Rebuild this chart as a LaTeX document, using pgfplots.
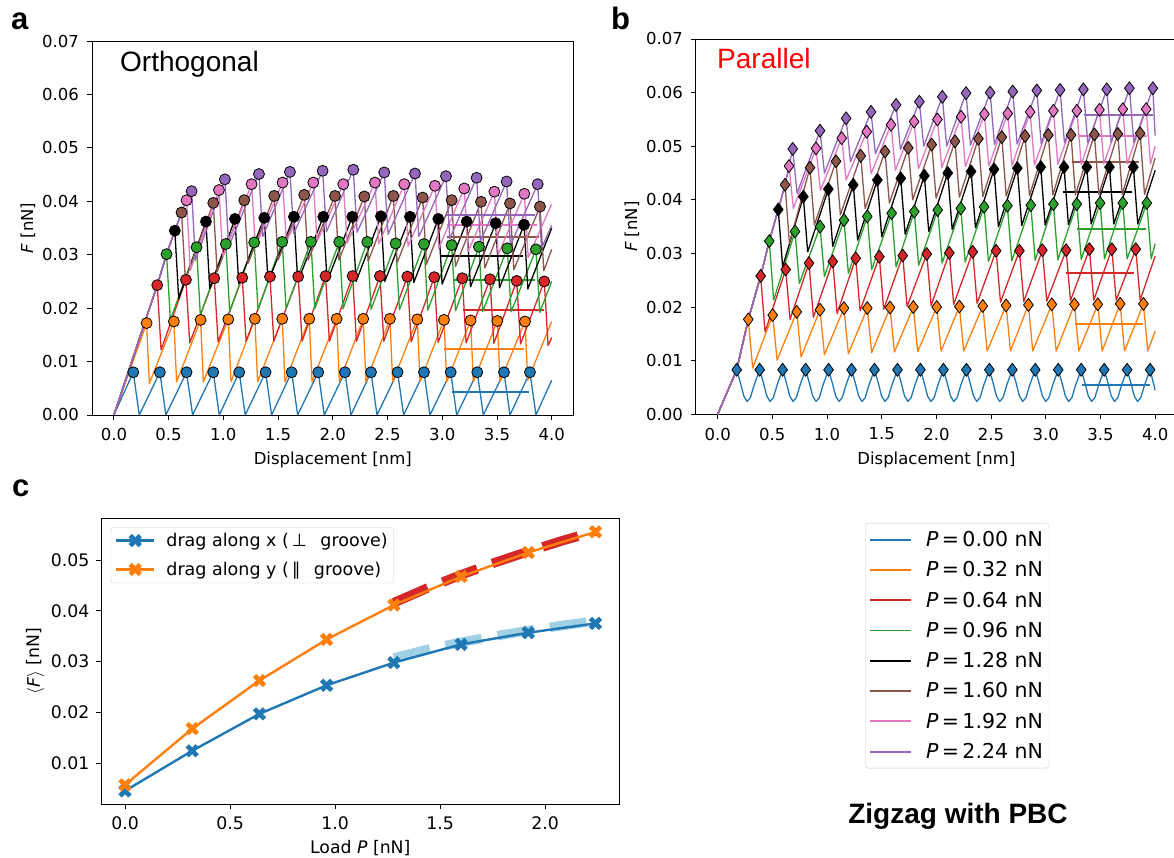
\documentclass[border=0pt]{standalone}
\usepackage{fontspec}
\setmainfont{DejaVu Sans}
\newfontfamily\arial{Liberation Sans}
\usepackage{pgfplots}
\pgfplotsset{compat=1.18}
\definecolor{C0}{RGB}{31,119,180}
\definecolor{C1}{RGB}{255,127,14}
\definecolor{C2}{RGB}{44,160,44}
\definecolor{C3}{RGB}{214,39,40}
\definecolor{C4}{RGB}{148,103,189}
\definecolor{C5}{RGB}{140,86,75}
\definecolor{C6}{RGB}{227,119,194}
\definecolor{LB}{RGB}{160,208,228}
\definecolor{legframe}{RGB}{204,204,204}
\pgfdeclareplotmark{Xf}{%
 \pgftransformrotate{45}%
 \pgfpathmoveto{\pgfqpoint{0.3\pgfplotmarksize}{\pgfplotmarksize}}%
 \pgfpathlineto{\pgfqpoint{0.3\pgfplotmarksize}{0.3\pgfplotmarksize}}%
 \pgfpathlineto{\pgfqpoint{\pgfplotmarksize}{0.3\pgfplotmarksize}}%
 \pgfpathlineto{\pgfqpoint{\pgfplotmarksize}{-0.3\pgfplotmarksize}}%
 \pgfpathlineto{\pgfqpoint{0.3\pgfplotmarksize}{-0.3\pgfplotmarksize}}%
 \pgfpathlineto{\pgfqpoint{0.3\pgfplotmarksize}{-\pgfplotmarksize}}%
 \pgfpathlineto{\pgfqpoint{-0.3\pgfplotmarksize}{-\pgfplotmarksize}}%
 \pgfpathlineto{\pgfqpoint{-0.3\pgfplotmarksize}{-0.3\pgfplotmarksize}}%
 \pgfpathlineto{\pgfqpoint{-\pgfplotmarksize}{-0.3\pgfplotmarksize}}%
 \pgfpathlineto{\pgfqpoint{-\pgfplotmarksize}{0.3\pgfplotmarksize}}%
 \pgfpathlineto{\pgfqpoint{-0.3\pgfplotmarksize}{0.3\pgfplotmarksize}}%
 \pgfpathlineto{\pgfqpoint{-0.3\pgfplotmarksize}{\pgfplotmarksize}}%
 \pgfpathclose
 \pgfusepathqfillstroke}
\pgfplotsset{
 panelab/.style={scale only axis, xmin=-0.2, xmax=4.2, ymin=0, ymax=0.07,
  axis line style={line width=0.9pt}, tick align=outside, tick pos=left,
  major tick length=5pt, every tick/.style={black, line width=0.9pt},
  xtick={0,0.5,1,1.5,2,2.5,3,3.5,4},
  xticklabels={0.0,0.5,1.0,1.5,2.0,2.5,3.0,3.5,4.0},
  ytick={0,0.01,0.02,0.03,0.04,0.05,0.06,0.07},
  yticklabels={0.00,0.01,0.02,0.03,0.04,0.05,0.06,0.07},
  scaled ticks=false,
  tick label style={font=\fontsize{16.5}{19}\selectfont},
  xticklabel style={yshift=-5pt},
  yticklabel style={xshift=-4.5pt},
  label style={font=\fontsize{16.5}{19}\selectfont},
  xlabel={Displacement [nm]}, ylabel={\textit{F} [nN]},
  xlabel style={at={(axis description cs:0.5,-0.12)}, anchor=center},
  ylabel style={at={(axis description cs:-0.133,0.5)}, anchor=center},
  every axis plot/.append style={line join=round},
 },
 ln/.style={no marks, line width=1.3pt, #1},
 mn/.style={no marks, line width=2pt, #1},
 ca/.style={only marks, mark=*, mark size=5.5pt, mark options={fill=#1, draw=black, line width=0.8pt}},
 db/.style={only marks, mark=diamond*, mark size=6.5pt, mark options={fill=#1, draw=black, line width=0.8pt}},
}
\begin{document}
\begin{tikzpicture}[x=1pt,y=1pt]
\useasboundingbox (0,0) rectangle (1174,858);
% ---------------- panel a ----------------
\begin{axis}[panelab, at={(92pt,443pt)}, anchor=south west, width=481.6pt, height=374pt]
% P=0.00
\addplot[ln=C0] coordinates {(0,0) (0.177,0.0080) (0.232,0) (0.420,0.0080) (0.475,0) (0.664,0.0080) (0.719,0) (0.908,0.0080) (0.963,0) (1.145,0.0080) (1.200,0) (1.386,0.0080) (1.441,0) (1.624,0.0080) (1.679,0) (1.867,0.0080) (1.922,0) (2.111,0.0080) (2.166,0) (2.349,0.0080) (2.404,0) (2.592,0.0080) (2.647,0) (2.833,0.0080) (2.888,0) (3.077,0.0080) (3.132,0) (3.320,0.0080) (3.375,0) (3.564,0.0080) (3.619,0) (3.801,0.0080) (3.856,0) (4.0,0.0065)};
\addplot[mn=C0] coordinates {(3.087,0.00435) (3.796,0.00435)};
\addplot[ca=C0] coordinates {(0.177,0.0080) (0.420,0.0080) (0.664,0.0080) (0.908,0.0080) (1.145,0.0080) (1.386,0.0080) (1.624,0.0080) (1.867,0.0080) (2.111,0.0080) (2.349,0.0080) (2.592,0.0080) (2.833,0.0080) (3.077,0.0080) (3.320,0.0080) (3.564,0.0080) (3.801,0.0080)};
% P=0.32
\addplot[ln=C1] coordinates {(0,0) (0.299,0.0172) (0.324,0.0059) (0.548,0.0175) (0.573,0.0062) (0.792,0.0178) (0.817,0.0062) (1.045,0.0179) (1.070,0.0062) (1.288,0.0180) (1.313,0.0062) (1.538,0.0180) (1.563,0.0062) (1.785,0.0180) (1.810,0.0062) (2.035,0.0180) (2.060,0.0062) (2.278,0.0180) (2.303,0.0062) (2.522,0.0180) (2.547,0.0062) (2.772,0.0179) (2.797,0.0062) (3.016,0.0178) (3.041,0.0062) (3.259,0.0177) (3.284,0.0062) (3.503,0.0176) (3.528,0.0062) (3.756,0.0175) (3.781,0.0065) (4.0,0.0175)};
\addplot[mn=C1] coordinates {(3.02,0.0124) (3.75,0.0124)};
\addplot[ca=C1] coordinates {(0.299,0.0172) (0.548,0.0175) (0.792,0.0178) (1.045,0.0179) (1.288,0.0180) (1.538,0.0180) (1.785,0.0180) (2.035,0.0180) (2.278,0.0180) (2.522,0.0180) (2.772,0.0179) (3.016,0.0178) (3.259,0.0177) (3.503,0.0176) (3.756,0.0175)};
% P=0.64
\addplot[ln=C3] coordinates {(0,0) (0.396,0.0243) (0.431,0.0122) (0.658,0.0253) (0.693,0.0135) (0.917,0.0256) (0.952,0.0137) (1.173,0.0257) (1.208,0.0138) (1.426,0.0259) (1.461,0.0138) (1.684,0.0259) (1.719,0.0138) (1.934,0.0260) (1.969,0.0138) (2.181,0.0260) (2.216,0.0138) (2.431,0.0260) (2.466,0.0138) (2.681,0.0259) (2.716,0.0137) (2.927,0.0258) (2.962,0.0136) (3.183,0.0256) (3.218,0.0135) (3.436,0.0254) (3.471,0.0134) (3.680,0.0251) (3.715,0.0133) (3.932,0.0250) (3.967,0.0130) (4.0,0.0145)};
\addplot[mn=C3] coordinates {(3.19,0.0196) (3.93,0.0196)};
\addplot[ca=C3] coordinates {(0.396,0.0243) (0.658,0.0253) (0.917,0.0256) (1.173,0.0257) (1.426,0.0259) (1.684,0.0259) (1.934,0.0260) (2.181,0.0260) (2.431,0.0260) (2.681,0.0259) (2.927,0.0258) (3.183,0.0256) (3.436,0.0254) (3.680,0.0251) (3.932,0.0250)};
% P=0.96
\addplot[ln=C2] coordinates {(0,0) (0.396,0.0243) (0.481,0.0301) (0.516,0.0178) (0.755,0.0314) (0.790,0.0187) (1.023,0.0320) (1.058,0.0193) (1.282,0.0323) (1.317,0.0197) (1.538,0.0324) (1.573,0.0199) (1.800,0.0324) (1.835,0.0199) (2.059,0.0324) (2.094,0.0199) (2.315,0.0324) (2.350,0.0198) (2.574,0.0321) (2.609,0.0197) (2.833,0.0320) (2.868,0.0196) (3.086,0.0318) (3.121,0.0195) (3.335,0.0315) (3.370,0.0194) (3.594,0.0312) (3.629,0.0193) (3.856,0.0310) (3.891,0.0192) (4.0,0.0250)};
\addplot[mn=C2] coordinates {(3.10,0.0253) (3.85,0.0253)};
\addplot[ca=C2] coordinates {(0.481,0.0301) (0.755,0.0314) (1.023,0.0320) (1.282,0.0323) (1.538,0.0324) (1.800,0.0324) (2.059,0.0324) (2.315,0.0324) (2.574,0.0321) (2.833,0.0320) (3.086,0.0318) (3.335,0.0315) (3.594,0.0312) (3.856,0.0310)};
% P=1.28
\addplot[ln=black] coordinates {(0,0) (0.396,0.0243) (0.481,0.0301) (0.557,0.0345) (0.592,0.0218) (0.841,0.0362) (0.876,0.0237) (1.106,0.0367) (1.141,0.0246) (1.374,0.0369) (1.409,0.0249) (1.645,0.0371) (1.680,0.0250) (1.913,0.0371) (1.948,0.0250) (2.178,0.0371) (2.213,0.0250) (2.440,0.0372) (2.475,0.0250) (2.705,0.0371) (2.740,0.0248) (2.964,0.0367) (2.999,0.0245) (3.223,0.0362) (3.258,0.0240) (3.488,0.0359) (3.523,0.0238) (3.747,0.0356) (3.782,0.0236) (4.0,0.0350)};
\addplot[mn=black] coordinates {(2.98,0.0298) (3.74,0.0298)};
\addplot[ca=black] coordinates {(0.557,0.0345) (0.841,0.0362) (1.106,0.0367) (1.374,0.0369) (1.645,0.0371) (1.913,0.0371) (2.178,0.0371) (2.440,0.0372) (2.705,0.0371) (2.964,0.0367) (3.223,0.0362) (3.488,0.0359) (3.747,0.0356)};
% P=1.60
\addplot[ln=C5] coordinates {(0,0) (0.396,0.0243) (0.481,0.0301) (0.557,0.0345) (0.618,0.0379) (0.653,0.0253) (0.908,0.0397) (0.943,0.0268) (1.191,0.0402) (1.226,0.0284) (1.465,0.0410) (1.500,0.0290) (1.739,0.0412) (1.774,0.0290) (2.020,0.0410) (2.055,0.0290) (2.288,0.0409) (2.323,0.0288) (2.553,0.0410) (2.588,0.0285) (2.821,0.0407) (2.856,0.0282) (3.086,0.0402) (3.121,0.0278) (3.354,0.0399) (3.389,0.0275) (3.619,0.0396) (3.654,0.0272) (3.893,0.0390) (3.928,0.0270) (4.0,0.0310)};
\addplot[mn=C5] coordinates {(3.04,0.0333) (3.88,0.0333)};
\addplot[ca=C5] coordinates {(0.618,0.0379) (0.908,0.0397) (1.191,0.0402) (1.465,0.0410) (1.739,0.0412) (2.020,0.0410) (2.288,0.0409) (2.553,0.0410) (2.821,0.0407) (3.086,0.0402) (3.354,0.0399) (3.619,0.0396) (3.893,0.0390)};
% P=1.92
\addplot[ln=C6] coordinates {(0,0) (0.396,0.0243) (0.481,0.0301) (0.557,0.0345) (0.618,0.0379) (0.664,0.0402) (0.699,0.0271) (0.960,0.0421) (0.995,0.0296) (1.258,0.0432) (1.293,0.0315) (1.541,0.0435) (1.576,0.0324) (1.822,0.0435) (1.857,0.0325) (2.096,0.0432) (2.131,0.0322) (2.385,0.0435) (2.420,0.0320) (2.653,0.0432) (2.688,0.0316) (2.933,0.0429) (2.968,0.0312) (3.201,0.0424) (3.236,0.0306) (3.476,0.0418) (3.511,0.0300) (3.750,0.0414) (3.785,0.0295) (4.0,0.0395)};
\addplot[mn=C6] coordinates {(3.04,0.0356) (3.87,0.0356)};
\addplot[ca=C6] coordinates {(0.664,0.0402) (0.960,0.0421) (1.258,0.0432) (1.541,0.0435) (1.822,0.0435) (2.096,0.0432) (2.385,0.0435) (2.653,0.0432) (2.933,0.0429) (3.201,0.0424) (3.476,0.0418) (3.750,0.0414)};
% P=2.24
\addplot[ln=C4] coordinates {(0,0) (0.396,0.0243) (0.481,0.0301) (0.557,0.0345) (0.618,0.0379) (0.664,0.0402) (0.710,0.0419) (0.745,0.0290) (1.014,0.0441) (1.049,0.0315) (1.325,0.0451) (1.360,0.0334) (1.608,0.0455) (1.643,0.0340) (1.907,0.0457) (1.942,0.0343) (2.187,0.0459) (2.222,0.0342) (2.470,0.0454) (2.505,0.0338) (2.751,0.0452) (2.786,0.0334) (3.034,0.0447) (3.069,0.0330) (3.314,0.0444) (3.349,0.0325) (3.588,0.0437) (3.623,0.0318) (3.872,0.0432) (3.907,0.0312) (4.0,0.0355)};
\addplot[mn=C4] coordinates {(3.03,0.0375) (3.85,0.0375)};
\addplot[ca=C4] coordinates {(0.710,0.0419) (1.014,0.0441) (1.325,0.0451) (1.608,0.0455) (1.907,0.0457) (2.187,0.0459) (2.470,0.0454) (2.751,0.0452) (3.034,0.0447) (3.314,0.0444) (3.588,0.0437) (3.872,0.0432)};
\end{axis}
% ---------------- panel b ----------------
\begin{axis}[panelab, at={(695.8pt,443.7pt)}, anchor=south west, width=481.2pt, height=375.3pt,
  ylabel style={at={(axis description cs:-0.1326,0.5)}, anchor=center},
  xlabel style={at={(axis description cs:0.5,-0.1218)}, anchor=center}]
% P=0.00
\addplot[ln=C0] coordinates {(0,0) (0.174,0.0083) (0.209,0.0058) (0.239,0.0034) (0.269,0.0024) (0.299,0.0031) (0.334,0.0055)
(0.384,0.0083) (0.419,0.0058) (0.449,0.0034) (0.479,0.0024) (0.509,0.0031) (0.544,0.0055)
(0.594,0.0083) (0.629,0.0058) (0.659,0.0034) (0.689,0.0024) (0.719,0.0031) (0.754,0.0055)
(0.804,0.0083) (0.839,0.0058) (0.869,0.0034) (0.899,0.0024) (0.929,0.0031) (0.964,0.0055)
(1.014,0.0083) (1.049,0.0058) (1.079,0.0034) (1.109,0.0024) (1.139,0.0031) (1.174,0.0055)
(1.224,0.0083) (1.259,0.0058) (1.289,0.0034) (1.319,0.0024) (1.349,0.0031) (1.384,0.0055)
(1.434,0.0083) (1.469,0.0058) (1.499,0.0034) (1.529,0.0024) (1.559,0.0031) (1.594,0.0055)
(1.644,0.0083) (1.679,0.0058) (1.709,0.0034) (1.739,0.0024) (1.769,0.0031) (1.804,0.0055)
(1.854,0.0083) (1.889,0.0058) (1.919,0.0034) (1.949,0.0024) (1.979,0.0031) (2.014,0.0055)
(2.064,0.0083) (2.099,0.0058) (2.129,0.0034) (2.159,0.0024) (2.189,0.0031) (2.224,0.0055)
(2.274,0.0083) (2.309,0.0058) (2.339,0.0034) (2.369,0.0024) (2.399,0.0031) (2.434,0.0055)
(2.484,0.0083) (2.519,0.0058) (2.549,0.0034) (2.579,0.0024) (2.609,0.0031) (2.644,0.0055)
(2.694,0.0083) (2.729,0.0058) (2.759,0.0034) (2.789,0.0024) (2.819,0.0031) (2.854,0.0055)
(2.904,0.0083) (2.939,0.0058) (2.969,0.0034) (2.999,0.0024) (3.029,0.0031) (3.064,0.0055)
(3.114,0.0083) (3.149,0.0058) (3.179,0.0034) (3.209,0.0024) (3.239,0.0031) (3.274,0.0055)
(3.324,0.0083) (3.359,0.0058) (3.389,0.0034) (3.419,0.0024) (3.449,0.0031) (3.484,0.0055)
(3.534,0.0083) (3.569,0.0058) (3.599,0.0034) (3.629,0.0024) (3.659,0.0031) (3.694,0.0055)
(3.744,0.0083) (3.779,0.0058) (3.809,0.0034) (3.839,0.0024) (3.869,0.0031) (3.904,0.0055)
(3.954,0.0083) (4.0,0.0045)};
\addplot[mn=C0] coordinates {(3.33,0.00547) (3.95,0.00547)};
\addplot[db=C0] coordinates {(0.174,0.0083) (0.384,0.0083) (0.594,0.0083) (0.804,0.0083) (1.014,0.0083) (1.224,0.0083) (1.434,0.0083) (1.644,0.0083) (1.854,0.0083) (2.064,0.0083) (2.274,0.0083) (2.484,0.0083) (2.694,0.0083) (2.904,0.0083) (3.114,0.0083) (3.324,0.0083) (3.534,0.0083) (3.744,0.0083) (3.954,0.0083)};
% P=0.32
\addplot[ln=C1] coordinates {(0,0) (0.174,0.0083) (0.280,0.0177) (0.320,0.0086) (0.503,0.0185) (0.543,0.0101) (0.723,0.0191) (0.763,0.0107) (0.936,0.0195) (0.976,0.0111) (1.155,0.0198) (1.195,0.0113) (1.368,0.0198) (1.408,0.0115) (1.576,0.0199) (1.616,0.0116) (1.789,0.0200) (1.829,0.0117) (2.003,0.0200) (2.043,0.0118) (2.210,0.0201) (2.250,0.0118) (2.424,0.0202) (2.464,0.0118) (2.637,0.0203) (2.677,0.0118) (2.841,0.0204) (2.881,0.0118) (3.055,0.0205) (3.095,0.0118) (3.262,0.0205) (3.302,0.0118) (3.476,0.0205) (3.516,0.0118) (3.680,0.0206) (3.720,0.0118) (3.893,0.0206) (3.933,0.0118) (4.0,0.0155)};
\addplot[mn=C1] coordinates {(3.268,0.0168) (3.893,0.0168)};
\addplot[db=C1] coordinates {(0.280,0.0177) (0.503,0.0185) (0.723,0.0191) (0.936,0.0195) (1.155,0.0198) (1.368,0.0198) (1.576,0.0199) (1.789,0.0200) (2.003,0.0200) (2.210,0.0201) (2.424,0.0202) (2.637,0.0203) (2.841,0.0204) (3.055,0.0205) (3.262,0.0205) (3.476,0.0205) (3.680,0.0206) (3.893,0.0206)};
% P=0.64
\addplot[ln=C3] coordinates {(0,0) (0.174,0.0083) (0.280,0.0177) (0.393,0.0258) (0.433,0.0154) (0.622,0.0270) (0.662,0.0177) (0.835,0.0282) (0.875,0.0181) (1.052,0.0285) (1.092,0.0188) (1.262,0.0291) (1.302,0.0193) (1.478,0.0294) (1.518,0.0196) (1.692,0.0296) (1.732,0.0201) (1.912,0.0299) (1.952,0.0203) (2.118,0.0301) (2.158,0.0205) (2.332,0.0303) (2.372,0.0207) (2.546,0.0305) (2.586,0.0209) (2.759,0.0305) (2.799,0.0210) (2.969,0.0306) (3.009,0.0211) (3.186,0.0306) (3.226,0.0212) (3.399,0.0308) (3.439,0.0213) (3.604,0.0308) (3.644,0.0213) (3.823,0.0308) (3.863,0.0213) (4.0,0.0295)};
\addplot[mn=C3] coordinates {(3.186,0.0264) (3.810,0.0264)};
\addplot[db=C3] coordinates {(0.393,0.0258) (0.622,0.0270) (0.835,0.0282) (1.052,0.0285) (1.262,0.0291) (1.478,0.0294) (1.692,0.0296) (1.912,0.0299) (2.118,0.0301) (2.332,0.0303) (2.546,0.0305) (2.759,0.0305) (2.969,0.0306) (3.186,0.0306) (3.399,0.0308) (3.604,0.0308) (3.823,0.0308)};
% P=0.96
\addplot[ln=C2] coordinates {(0,0) (0.174,0.0083) (0.280,0.0177) (0.393,0.0258) (0.472,0.0323) (0.512,0.0213) (0.707,0.0341) (0.747,0.0244) (0.936,0.0350) (0.976,0.0257) (1.155,0.0362) (1.195,0.0263) (1.368,0.0369) (1.408,0.0270) (1.591,0.0375) (1.631,0.0275) (1.798,0.0378) (1.838,0.0278) (2.012,0.0381) (2.052,0.0282) (2.223,0.0384) (2.263,0.0284) (2.436,0.0387) (2.476,0.0285) (2.649,0.0389) (2.689,0.0286) (2.863,0.0390) (2.903,0.0287) (3.070,0.0392) (3.110,0.0288) (3.284,0.0392) (3.324,0.0289) (3.497,0.0394) (3.537,0.0290) (3.704,0.0394) (3.744,0.0290) (3.924,0.0394) (3.964,0.0290) (4.0,0.0318)};
\addplot[mn=C2] coordinates {(3.284,0.0345) (3.917,0.0345)};
\addplot[db=C2] coordinates {(0.472,0.0323) (0.707,0.0341) (0.936,0.0350) (1.155,0.0362) (1.368,0.0369) (1.591,0.0375) (1.798,0.0378) (2.012,0.0381) (2.223,0.0384) (2.436,0.0387) (2.649,0.0389) (2.863,0.0390) (3.070,0.0392) (3.284,0.0392) (3.497,0.0394) (3.704,0.0394) (3.924,0.0394)};
% P=1.28
\addplot[ln=black] coordinates {(0,0) (0.174,0.0083) (0.280,0.0177) (0.393,0.0258) (0.472,0.0323) (0.554,0.0382) (0.594,0.0275) (0.783,0.0406) (0.823,0.0303) (1.012,0.0420) (1.052,0.0313) (1.240,0.0428) (1.280,0.0325) (1.460,0.0437) (1.500,0.0331) (1.674,0.0440) (1.714,0.0336) (1.890,0.0445) (1.930,0.0341) (2.104,0.0450) (2.144,0.0345) (2.317,0.0453) (2.357,0.0348) (2.527,0.0457) (2.567,0.0350) (2.740,0.0459) (2.780,0.0352) (2.954,0.0461) (2.994,0.0353) (3.167,0.0461) (3.207,0.0354) (3.375,0.0461) (3.415,0.0355) (3.582,0.0461) (3.622,0.0355) (3.801,0.0461) (3.841,0.0355) (4.0,0.0455)};
\addplot[mn=black] coordinates {(3.161,0.0414) (3.787,0.0414)};
\addplot[db=black] coordinates {(0.554,0.0382) (0.783,0.0406) (1.012,0.0420) (1.240,0.0428) (1.460,0.0437) (1.674,0.0440) (1.890,0.0445) (2.104,0.0450) (2.317,0.0453) (2.527,0.0457) (2.740,0.0459) (2.954,0.0461) (3.167,0.0461) (3.375,0.0461) (3.582,0.0461) (3.801,0.0461)};
% P=1.60
\addplot[ln=C5] coordinates {(0,0) (0.174,0.0083) (0.280,0.0177) (0.393,0.0258) (0.472,0.0323) (0.554,0.0382) (0.616,0.0428) (0.656,0.0319) (0.844,0.0460) (0.884,0.0353) (1.082,0.0472) (1.122,0.0372) (1.308,0.0482) (1.348,0.0384) (1.530,0.0490) (1.570,0.0394) (1.743,0.0497) (1.783,0.0400) (1.957,0.0503) (1.997,0.0403) (2.170,0.0509) (2.210,0.0405) (2.384,0.0514) (2.424,0.0406) (2.598,0.0517) (2.638,0.0407) (2.811,0.0519) (2.851,0.0408) (3.024,0.0521) (3.064,0.0409) (3.231,0.0521) (3.271,0.0409) (3.445,0.0522) (3.485,0.0410) (3.659,0.0523) (3.699,0.0410) (3.863,0.0524) (3.903,0.0410) (4.0,0.0478)};
\addplot[mn=C5] coordinates {(3.238,0.0470) (3.856,0.0470)};
\addplot[db=C5] coordinates {(0.616,0.0428) (0.844,0.0460) (1.082,0.0472) (1.308,0.0482) (1.530,0.0490) (1.743,0.0497) (1.957,0.0503) (2.170,0.0509) (2.384,0.0514) (2.598,0.0517) (2.811,0.0519) (3.024,0.0521) (3.231,0.0521) (3.445,0.0522) (3.659,0.0523) (3.863,0.0524)};
% P=1.92
\addplot[ln=C6] coordinates {(0,0) (0.174,0.0083) (0.280,0.0177) (0.393,0.0258) (0.472,0.0323) (0.554,0.0382) (0.616,0.0428) (0.652,0.0463) (0.692,0.0384) (0.899,0.0496) (0.939,0.0418) (1.134,0.0515) (1.174,0.0437) (1.363,0.0527) (1.403,0.0449) (1.585,0.0540) (1.625,0.0455) (1.796,0.0546) (1.836,0.0458) (2.009,0.0550) (2.049,0.0460) (2.225,0.0555) (2.265,0.0462) (2.439,0.0560) (2.479,0.0463) (2.652,0.0561) (2.692,0.0464) (2.857,0.0564) (2.897,0.0465) (3.070,0.0566) (3.110,0.0466) (3.284,0.0566) (3.324,0.0466) (3.491,0.0568) (3.531,0.0467) (3.704,0.0569) (3.744,0.0467) (3.918,0.0569) (3.958,0.0467) (4.0,0.0500)};
\addplot[mn=C6] coordinates {(3.298,0.0519) (3.924,0.0519)};
\addplot[db=C6] coordinates {(0.652,0.0463) (0.899,0.0496) (1.134,0.0515) (1.363,0.0527) (1.585,0.0540) (1.796,0.0546) (2.009,0.0550) (2.225,0.0555) (2.439,0.0560) (2.652,0.0561) (2.857,0.0564) (3.070,0.0566) (3.284,0.0566) (3.491,0.0568) (3.704,0.0569) (3.918,0.0569)};
% P=2.24
\addplot[ln=C4] coordinates {(0,0) (0.174,0.0083) (0.280,0.0177) (0.393,0.0258) (0.472,0.0323) (0.554,0.0382) (0.616,0.0428) (0.652,0.0463) (0.686,0.0495) (0.726,0.0412) (0.936,0.0529) (0.976,0.0450) (1.174,0.0552) (1.214,0.0471) (1.402,0.0564) (1.442,0.0486) (1.631,0.0577) (1.671,0.0494) (1.844,0.0583) (1.884,0.0500) (2.054,0.0592) (2.094,0.0500) (2.271,0.0599) (2.311,0.0502) (2.491,0.0600) (2.531,0.0503) (2.698,0.0602) (2.738,0.0504) (2.918,0.0604) (2.958,0.0505) (3.131,0.0605) (3.171,0.0506) (3.344,0.0606) (3.384,0.0506) (3.558,0.0606) (3.598,0.0507) (3.765,0.0608) (3.805,0.0507) (3.979,0.0608) (4.0,0.0520)};
\addplot[mn=C4] coordinates {(3.353,0.0558) (3.984,0.0558)};
\addplot[db=C4] coordinates {(0.686,0.0495) (0.936,0.0529) (1.174,0.0552) (1.402,0.0564) (1.631,0.0577) (1.844,0.0583) (2.054,0.0592) (2.271,0.0599) (2.491,0.0600) (2.698,0.0602) (2.918,0.0604) (3.131,0.0605) (3.344,0.0606) (3.558,0.0606) (3.765,0.0608) (3.979,0.0608)};
\end{axis}
% ---------------- panel c ----------------
\begin{axis}[scale only axis, at={(101.5pt,54pt)}, anchor=south west, width=517.5pt, height=286pt,
  xmin=-0.112, xmax=2.352, ymin=0.00194, ymax=0.0583,
  axis line style={line width=0.9pt}, tick align=outside, tick pos=left,
  major tick length=5pt, every tick/.style={black, line width=0.9pt},
  xtick={0,0.5,1,1.5,2}, xticklabels={0.0,0.5,1.0,1.5,2.0},
  ytick={0.01,0.02,0.03,0.04,0.05}, yticklabels={0.01,0.02,0.03,0.04,0.05},
  scaled ticks=false,
  tick label style={font=\fontsize{17.3}{20}\selectfont},
  xticklabel style={yshift=-4pt},
  yticklabel style={xshift=-3.5pt},
  label style={font=\fontsize{17.3}{20}\selectfont},
  xlabel={Load \textit{P} [nN]}, ylabel={$\langle$\textit{F}$\rangle$ [nN]},
  xlabel style={at={(axis description cs:0.5,-0.154)}, anchor=center},
  ylabel style={at={(axis description cs:-0.1275,0.5)}, anchor=center},
  legend style={at={(0.018,0.9685)}, anchor=north west, draw=legframe, rounded corners=3pt,
    fill=white, font=\fontsize{17.5}{20}\selectfont, inner xsep=4pt, inner ysep=4pt, row sep=10pt, column sep=9pt},
  legend cell align=left,
  legend image code/.code={\draw[mark repeat=2,mark phase=2,#1] plot coordinates {(0pt,0pt) (19pt,0pt) (38pt,0pt)};},
]
\addplot[no marks, line width=9.5pt, color=LB, dash pattern=on 37pt off 16pt, forget plot] coordinates {(1.28,0.0307) (1.44,0.0324) (1.60,0.0338) (1.76,0.0350) (1.92,0.0361) (2.08,0.0371) (2.24,0.0380)};
\addplot[no marks, line width=9.5pt, color=C3, dash pattern=on 37pt off 16pt, forget plot] coordinates {(1.28,0.0416) (1.44,0.0445) (1.60,0.0471) (1.76,0.0495) (1.92,0.0517) (2.08,0.0538) (2.24,0.0557)};
\addplot[C0, line width=2.4pt, mark=Xf, mark size=6.8pt, mark options={fill=C0, draw=C0, line width=0.5pt}] coordinates {(0,0.00453) (0.32,0.01243) (0.64,0.0197) (0.96,0.02533) (1.28,0.0298) (1.60,0.0334) (1.92,0.0357) (2.24,0.03753)};
\addlegendentry{drag along x (\,⊥\;\, groove)}
\addplot[C1, line width=2.4pt, mark=Xf, mark size=6.8pt, mark options={fill=C1, draw=C1, line width=0.5pt}] coordinates {(0,0.00571) (0.32,0.01678) (0.64,0.02627) (0.96,0.03437) (1.28,0.04115) (1.60,0.04676) (1.92,0.0515) (2.24,0.05557)};
\addlegendentry{drag along y (\,∥\;\, groove)}
\end{axis}
% ---------------- legend for a, b ----------------
\begin{axis}[scale only axis, at={(865pt,85pt)}, anchor=south west, width=187pt, height=250pt,
  hide axis, xmin=0, xmax=1, ymin=0, ymax=1,
  legend style={at={(0,1)}, anchor=north west, draw=legframe, rounded corners=3pt,
    fill=white, font=\fontsize{20.5}{24}\selectfont, inner xsep=4pt, inner ysep=6pt, row sep=9.6pt, column sep=12pt},
  legend cell align=left,
  legend image code/.code={\draw[#1] (0pt,0pt) -- (41pt,0pt);},
]
\addlegendimage{C0, line width=1.9pt}\addlegendentry{\textit{P}\,=\,0.00 nN}
\addlegendimage{C1, line width=1.9pt}\addlegendentry{\textit{P}\,=\,0.32 nN}
\addlegendimage{C3, line width=1.9pt}\addlegendentry{\textit{P}\,=\,0.64 nN}
\addlegendimage{C2, line width=1.9pt}\addlegendentry{\textit{P}\,=\,0.96 nN}
\addlegendimage{black, line width=1.9pt}\addlegendentry{\textit{P}\,=\,1.28 nN}
\addlegendimage{C5, line width=1.9pt}\addlegendentry{\textit{P}\,=\,1.60 nN}
\addlegendimage{C6, line width=1.9pt}\addlegendentry{\textit{P}\,=\,1.92 nN}
\addlegendimage{C4, line width=1.9pt}\addlegendentry{\textit{P}\,=\,2.24 nN}
\end{axis}
% ---------------- annotations ----------------
\node[anchor=base west, inner sep=0pt, font=\arial\bfseries\fontsize{31}{36}\selectfont] at (11,828.7) {a};
\node[anchor=base west, inner sep=0pt, font=\arial\bfseries\fontsize{31}{36}\selectfont] at (611,828.7) {b};
\node[anchor=base west, inner sep=0pt, font=\arial\bfseries\fontsize{31}{36}\selectfont] at (12,361) {c};
\node[anchor=base west, inner sep=0pt, font=\arial\fontsize{28}{32}\selectfont] at (120,786.3) {Orthogonal};
\node[anchor=base west, inner sep=0pt, font=\arial\fontsize{28}{32}\selectfont, text=red] at (717,789.7) {Parallel};
\node[anchor=base, inner sep=0pt, font=\arial\bfseries\fontsize{28}{32}\selectfont] at (958,34.5) {Zigzag with PBC};
\end{tikzpicture}
\end{document}
